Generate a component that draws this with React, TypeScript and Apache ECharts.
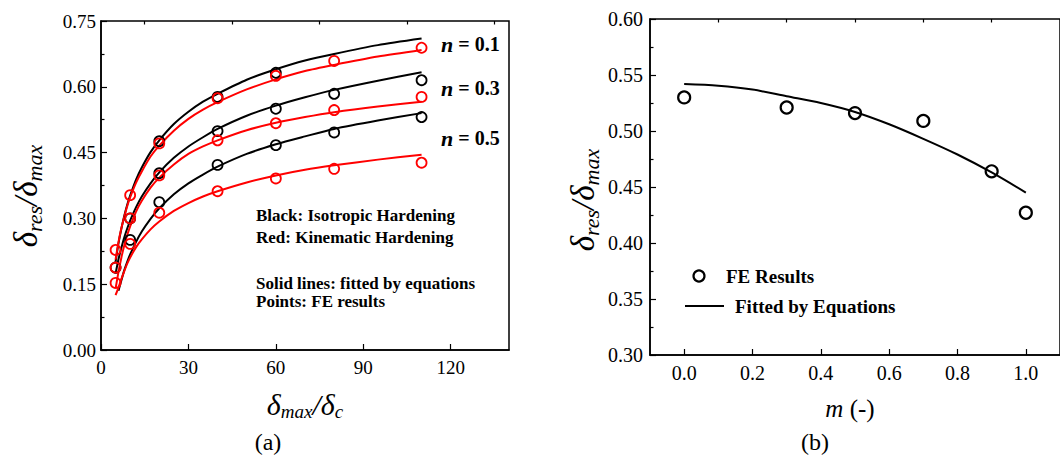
import React, { useEffect, useRef } from 'react';
import * as echarts from 'echarts';

// ---------- Panel (a) data ----------
// fitted curves at these abscissae
const fitX = [5, 6, 7, 8, 9, 10, 12, 14, 17, 20, 25, 30, 35, 40, 50, 60, 70, 80, 95, 110];
const fitBlack01 = [0.201, 0.243, 0.277, 0.306, 0.331, 0.352, 0.388, 0.416, 0.451, 0.478, 0.515, 0.543, 0.566, 0.584, 0.616, 0.64, 0.66, 0.675, 0.695, 0.71];
const fitRed01 = [0.206, 0.246, 0.278, 0.304, 0.328, 0.348, 0.381, 0.407, 0.441, 0.466, 0.5, 0.527, 0.548, 0.565, 0.594, 0.617, 0.636, 0.65, 0.669, 0.684];
const fitBlack03 = [0.174, 0.207, 0.233, 0.257, 0.277, 0.295, 0.325, 0.35, 0.38, 0.405, 0.438, 0.464, 0.485, 0.504, 0.534, 0.557, 0.576, 0.593, 0.614, 0.633];
const fitRed03 = [0.14, 0.178, 0.211, 0.239, 0.262, 0.282, 0.315, 0.34, 0.37, 0.393, 0.423, 0.447, 0.464, 0.478, 0.501, 0.518, 0.531, 0.542, 0.555, 0.566];
const fitBlack05 = [null, 0.135, 0.159, 0.182, 0.201, 0.218, 0.246, 0.27, 0.299, 0.323, 0.355, 0.38, 0.4, 0.418, 0.447, 0.469, 0.487, 0.504, 0.523, 0.54];
const fitRed05 = [0.125, 0.142, 0.162, 0.18, 0.197, 0.211, 0.234, 0.252, 0.275, 0.293, 0.317, 0.335, 0.35, 0.362, 0.382, 0.398, 0.411, 0.421, 0.434, 0.445];

// FE points
const ptX = [5, 10, 20, 40, 60, 80, 110];
const ptBlack01 = [null, null, 0.476, 0.577, 0.632, null, null];
const ptRed01 = [0.228, 0.353, 0.471, 0.574, 0.625, 0.659, 0.689];
const ptBlack03 = [0.188, 0.3, 0.403, 0.499, 0.55, 0.584, 0.615];
const ptRed03 = [0.188, 0.3, 0.398, 0.478, 0.517, 0.547, 0.577];
const ptBlack05 = [null, 0.251, 0.337, 0.422, 0.467, 0.496, 0.531];
const ptRed05 = [0.153, 0.242, 0.313, 0.362, 0.391, 0.413, 0.427];

const aXMajor = [0, 30, 60, 90, 120];
const aXMinor = [15, 45, 75, 105, 135];

// ---------- Panel (b) data ----------
const fitM = [0, 0.1, 0.2, 0.3, 0.4, 0.5, 0.6, 0.7, 0.8, 0.9, 1.0];
const fitMVal = [0.542, 0.5405, 0.537, 0.531, 0.525, 0.517, 0.506, 0.493, 0.479, 0.463, 0.445];
const feM = [0, 0.3, 0.5, 0.7, 0.9, 1.0];
const feVal = [0.53, 0.521, 0.516, 0.509, 0.464, 0.427];
const bXMajor = [0, 0.2, 0.4, 0.6, 0.8, 1.0];
const bXMinor = [0.1, 0.3, 0.5, 0.7, 0.9];

const FONT = '"Liberation Serif", "Times New Roman", serif';
const RED = '#ff0000';
const BLACK = '#000000';

const zip = (xs: number[], ys: (number | null)[]) =>
  xs.map((x, i) => [x, ys[i]]).filter((p) => p[1] !== null);

const fitLine = (data: (number | null)[][], color: string) => ({
  type: 'line',
  xAxisIndex: 0,
  yAxisIndex: 0,
  data,
  smooth: 0.25,
  symbol: 'none',
  lineStyle: { color, width: 2 },
  z: 3,
});

const pts = (data: (number | null)[][], color: string) => ({
  type: 'scatter',
  xAxisIndex: 0,
  yAxisIndex: 0,
  data,
  symbol: 'circle',
  symbolSize: 10,
  itemStyle: { color: 'rgba(0,0,0,0)', borderColor: color, borderWidth: 1.8, opacity: 1 },
  z: 4,
});

const tickLabel = (size: number) => ({
  color: BLACK,
  fontFamily: FONT,
  fontSize: size,
});

const greek = (size: number, lh: number) => ({ fontFamily: FONT, fontStyle: 'italic', fontSize: size, fill: BLACK, lineHeight: lh, verticalAlign: 'middle' });
const sub = (size: number, lh: number) => ({ fontFamily: FONT, fontStyle: 'italic', fontSize: size, fill: BLACK, lineHeight: lh, verticalAlign: 'bottom' });

export default function App() {
  const ref = useRef<HTMLDivElement>(null);
  useEffect(() => {
    document.body.style.margin = '0';
    if (!ref.current) return;
    const chart = echarts.init(ref.current, null, { renderer: 'svg' });

    const axisLine = { show: true, onZero: false, lineStyle: { color: BLACK, width: 1.5 } };
    const tickStyle = { color: BLACK, width: 1.2 };

    const option: any = {
      animation: false,
      backgroundColor: '#fff',
      grid: [
        { left: 101, top: 21, width: 408, height: 329, show: true, borderColor: BLACK, borderWidth: 1.5 },
        { left: 650, top: 19, width: 420, height: 336, show: true, borderColor: BLACK, borderWidth: 1.5 },
      ],
      xAxis: [
        {
          type: 'value', gridIndex: 0, min: 0, max: 140,
          axisLine, splitLine: { show: false },
          axisTick: { show: true, inside: true, length: 6, customValues: aXMajor, lineStyle: tickStyle },
          axisLabel: { ...tickLabel(19), margin: 8, customValues: aXMajor, formatter: (v: number) => String(v) },
        },
        {
          type: 'value', gridIndex: 0, min: 0, max: 140,
          axisLine: { show: false, onZero: false }, splitLine: { show: false },
          axisTick: { show: true, inside: true, length: 3.5, customValues: aXMinor, lineStyle: tickStyle },
          axisLabel: { show: false },
        },
        {
          type: 'value', gridIndex: 1, min: -0.1, max: 1.1,
          axisLine, splitLine: { show: false },
          axisTick: { show: true, inside: true, length: 6, customValues: bXMajor, lineStyle: tickStyle },
          axisLabel: { ...tickLabel(20), margin: 8, customValues: bXMajor, formatter: (v: number) => v.toFixed(1) },
        },
        {
          type: 'value', gridIndex: 1, min: -0.1, max: 1.1,
          axisLine: { show: false, onZero: false }, splitLine: { show: false },
          axisTick: { show: true, inside: true, length: 3.5, customValues: bXMinor, lineStyle: tickStyle },
          axisLabel: { show: false },
        },
      ],
      yAxis: [
        {
          type: 'value', gridIndex: 0, min: 0, max: 0.75, interval: 0.15,
          axisLine, splitLine: { show: false },
          axisTick: { show: true, inside: true, length: 6, lineStyle: tickStyle },
          minorTick: { show: true, splitNumber: 2, length: 3.5, lineStyle: tickStyle },
          minorSplitLine: { show: false },
          axisLabel: { ...tickLabel(19), margin: 5, formatter: (v: number) => v.toFixed(2) },
        },
        {
          type: 'value', gridIndex: 1, min: 0.3, max: 0.6, interval: 0.05,
          axisLine, splitLine: { show: false },
          axisTick: { show: true, inside: true, length: 6, lineStyle: tickStyle },
          minorTick: { show: true, splitNumber: 2, length: 3.5, lineStyle: tickStyle },
          minorSplitLine: { show: false },
          axisLabel: { ...tickLabel(20), margin: 7, formatter: (v: number) => v.toFixed(2) },
        },
      ],
      series: [
        fitLine(zip(fitX, fitBlack01), BLACK),
        fitLine(zip(fitX, fitBlack03), BLACK),
        fitLine(zip(fitX, fitBlack05), BLACK),
        fitLine(zip(fitX, fitRed01), RED),
        fitLine(zip(fitX, fitRed03), RED),
        fitLine(zip(fitX, fitRed05), RED),
        pts(zip(ptX, ptBlack01), BLACK),
        pts(zip(ptX, ptBlack03), BLACK),
        pts(zip(ptX, ptBlack05), BLACK),
        pts(zip(ptX, ptRed01), RED),
        pts(zip(ptX, ptRed03), RED),
        pts(zip(ptX, ptRed05), RED),
        {
          name: 'Fitted by Equations',
          type: 'line', xAxisIndex: 2, yAxisIndex: 1,
          data: zip(fitM, fitMVal),
          smooth: 0.3, symbol: 'none',
          lineStyle: { color: BLACK, width: 2 },
        },
        {
          name: 'FE Results',
          type: 'scatter', xAxisIndex: 2, yAxisIndex: 1,
          data: zip(feM, feVal),
          symbol: 'circle', symbolSize: 12,
          itemStyle: { color: 'rgba(0,0,0,0)', borderColor: BLACK, borderWidth: 2.2, opacity: 1 },
        },
      ],
      graphic: [
        // panel (a) y-axis title
        {
          type: 'text', x: 26, y: 196, rotation: Math.PI / 2,
          style: {
            text: '{d|δ}{s|res}{d|/δ}{s|max}',
            rich: { d: greek(33, 38), s: sub(22, 38) },
            align: 'center', verticalAlign: 'middle',
          },
        },
        // panel (a) x-axis title
        {
          type: 'text', x: 305, y: 404,
          style: {
            text: '{d|δ}{s|max}{d|/δ}{s|c}',
            rich: { d: greek(30, 34), s: sub(19, 34) },
            align: 'center', verticalAlign: 'middle',
          },
        },
        { type: 'text', x: 268, y: 442, style: { text: '(a)', fontFamily: FONT, fontSize: 24, fill: BLACK, align: 'center', verticalAlign: 'middle' } },
        // n labels
        ...[['0.1', 44], ['0.3', 88], ['0.5', 138]].map(([v, y]) => ({
          type: 'text', x: 441, y: y as number,
          style: {
            text: `{i|n}{b| = ${v}}`,
            rich: {
              i: { fontFamily: FONT, fontStyle: 'italic', fontWeight: 'bold', fontSize: 22, fill: BLACK },
              b: { fontFamily: FONT, fontWeight: 'bold', fontSize: 20, fill: BLACK },
            },
            align: 'left', verticalAlign: 'middle',
          },
        })),
        ...[['Black: Isotropic Hardening', 215], ['Red: Kinematic Hardening', 237], ['Solid lines: fitted by equations', 283], ['Points: FE results', 301]].map(([t, y]) => ({
          type: 'text', x: 256, y: y as number,
          style: { text: t as string, fontFamily: FONT, fontWeight: 'bold', fontSize: 17, fill: BLACK, align: 'left', verticalAlign: 'middle' },
        })),
        // panel (b) titles
        {
          type: 'text', x: 583, y: 200, rotation: Math.PI / 2,
          style: {
            text: '{d|δ}{s|res}{d|/δ}{s|max}',
            rich: { d: greek(33, 38), s: sub(22, 38) },
            align: 'center', verticalAlign: 'middle',
          },
        },
        {
          type: 'text', x: 850, y: 408,
          style: {
            text: '{i|m}{n| (-)}',
            rich: {
              i: { fontFamily: FONT, fontStyle: 'italic', fontSize: 25, fill: BLACK },
              n: { fontFamily: FONT, fontSize: 25, fill: BLACK },
            },
            align: 'center', verticalAlign: 'middle',
          },
        },
        { type: 'text', x: 815, y: 442, style: { text: '(b)', fontFamily: FONT, fontSize: 24, fill: BLACK, align: 'center', verticalAlign: 'middle' } },
        // panel (b) legend
        { type: 'circle', shape: { cx: 699, cy: 276, r: 5.5 }, style: { fill: 'rgba(0,0,0,0)', stroke: BLACK, lineWidth: 2.2 } },
        { type: 'text', x: 726, y: 276, style: { text: 'FE Results', fontFamily: FONT, fontWeight: 'bold', fontSize: 19, fill: BLACK, align: 'left', verticalAlign: 'middle' } },
        { type: 'line', shape: { x1: 685, y1: 306, x2: 724, y2: 306 }, style: { stroke: BLACK, lineWidth: 2.2 } },
        { type: 'text', x: 735, y: 306, style: { text: 'Fitted by Equations', fontFamily: FONT, fontWeight: 'bold', fontSize: 19, fill: BLACK, align: 'left', verticalAlign: 'middle' } },
      ],
    };
    chart.setOption(option);
    return () => chart.dispose();
  }, []);
  return <div ref={ref} style={{ width: 1060, height: 459 }} />;
}
